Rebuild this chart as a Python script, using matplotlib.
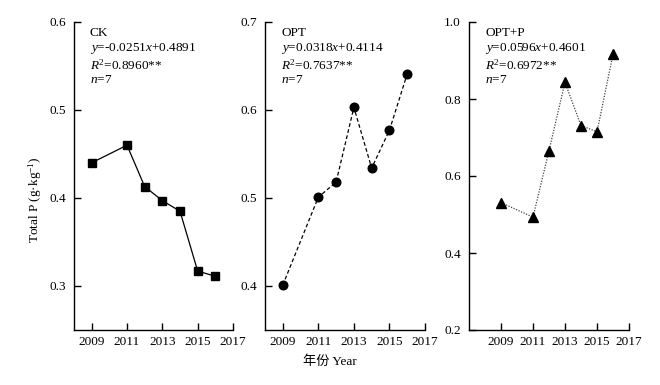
import matplotlib
matplotlib.use("Agg")
import matplotlib.pyplot as plt

plt.rcParams['font.family'] = ['Liberation Serif', 'Noto Sans CJK SC', 'DejaVu Sans']
plt.rcParams['mathtext.fontset'] = 'custom'
plt.rcParams['mathtext.rm'] = 'Liberation Serif'
plt.rcParams['mathtext.it'] = 'Liberation Serif:italic'
plt.rcParams['mathtext.bf'] = 'Liberation Serif:bold'

years = [2009, 2011, 2012, 2013, 2014, 2015, 2016]
ck = [0.440, 0.460, 0.413, 0.397, 0.385, 0.317, 0.311]
opt = [0.401, 0.501, 0.518, 0.603, 0.534, 0.577, 0.641]
optp = [0.531, 0.493, 0.666, 0.843, 0.731, 0.715, 0.916]

names = ["CK", "OPT", "OPT+P"]
equations = [r"$y$=-0.0251$x$+0.4891", r"$y$=0.0318$x$+0.4114", r"$y$=0.0596$x$+0.4601"]
r2 = [r"$R^2$=0.8960**", r"$R^2$=0.7637**", r"$R^2$=0.6972**"]
ylims = [(0.25, 0.6), (0.35, 0.7), (0.2, 1.0)]
yticks = [[0.3, 0.4, 0.5, 0.6], [0.4, 0.5, 0.6, 0.7], [0.2, 0.4, 0.6, 0.8, 1.0]]
xlims = [(2008, 2017), (2008, 2017), (2007, 2017)]
xticks = [2009, 2011, 2013, 2015, 2017]
series = [ck, opt, optp]
markers = ['s', 'o', '^']
msizes = [5.5, 6.2, 7.5]
lstyles = ['-', (0, (3, 2)), (0, (1, 1.2))]
lcolors = ['black', 'black', '#444444']

fig = plt.figure(figsize=(6.6, 3.85), dpi=100)
lefts = [74 / 660, 265 / 660, 469 / 660]
widths = [159 / 660, 160 / 660, 160 / 660]
for i in range(3):
    ax = fig.add_axes([lefts[i], 55 / 385, widths[i], 308 / 385])
    ax.plot(years, series[i], linestyle=lstyles[i], color=lcolors[i], linewidth=0.9, zorder=2)
    ax.plot(years, series[i], linestyle='none', marker=markers[i], markersize=msizes[i],
            color='black', zorder=3)
    ax.set_xlim(*xlims[i])
    ax.set_ylim(*ylims[i])
    ax.set_xticks(xticks)
    ax.set_yticks(yticks[i])
    ax.set_yticklabels([f"{v:.1f}" for v in yticks[i]])
    ax.spines['top'].set_visible(False)
    ax.spines['right'].set_visible(False)
    for s in ['left', 'bottom']:
        ax.spines[s].set_linewidth(1.0)
    ax.tick_params(direction='in', length=5, width=1.0, labelsize=9.5, pad=4)
    ax.tick_params(axis='y', pad=6)
    txt = names[i] + "\n" + equations[i] + "\n" + r2[i] + "\n" + r"$n$=7"
    ax.text(0.1, 0.985, txt, transform=ax.transAxes, va='top', ha='left',
            fontsize=9.5, linespacing=1.2)

fig.text(35 / 660, 1 - 200 / 385, "Total P (g·kg$^{-1}$)", rotation=90,
         ha='center', va='center', fontsize=9.5)
fig.text(330 / 660, 1 - 362 / 385, "年份 Year", ha='center', va='center', fontsize=9.5)

fig.savefig("out.png", dpi=100)
